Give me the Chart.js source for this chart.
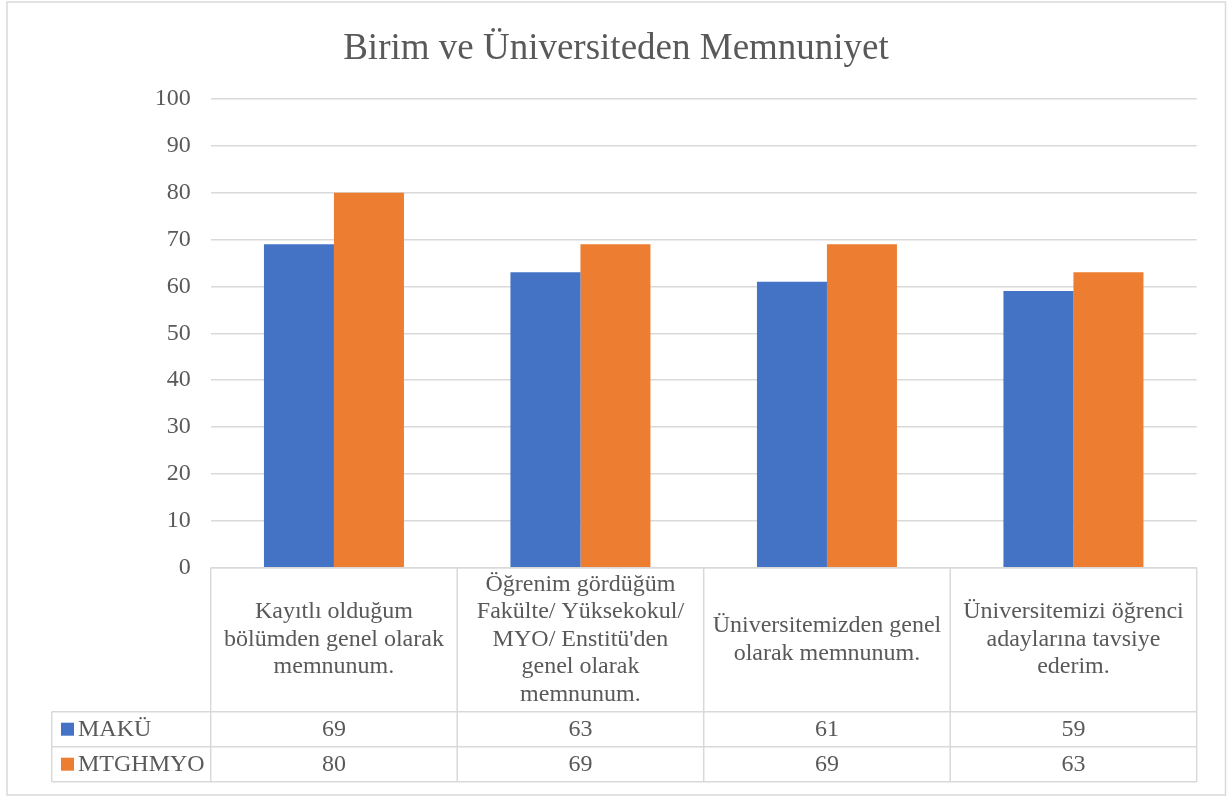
<!DOCTYPE html>
<html>
<head>
<meta charset="utf-8">
<script src="https://cdn.jsdelivr.net/npm/chart.js@4.4.1/dist/chart.umd.min.js"></script>
<style>
  body { margin: 0; background: #fff; }
  canvas { display: block; }
</style>
</head>
<body>
<canvas id="memnuniyetChart" width="1227" height="796"></canvas>
<script>
const chartTitle = 'Birim ve Üniversiteden Memnuniyet';

// category labels, split into lines as in the data table
const categories = [
    ['Kayıtlı olduğum', 'bölümden genel olarak', 'memnunum.'],
    ['Öğrenim gördüğüm', 'Fakülte/ Yüksekokul/', "MYO/ Enstitü'den", 'genel olarak', 'memnunum.'],
    ['Üniversitemizden genel', 'olarak memnunum.'],
    ['Üniversitemizi öğrenci', 'adaylarına tavsiye', 'ederim.']
];

const seriesNames = ['MAKÜ', 'MTGHMYO'];
const makuValues = [69, 63, 61, 59];
const mtghmyoValues = [80, 69, 69, 63];

const yMin = 0;
const yMax = 100;
const yStep = 10;

const BLUE = '#4472C4';
const ORANGE = '#ED7D31';
const LINE = '#d9d9d9';
const TEXT = '#595959';
const FONT = '"Liberation Serif", "Times New Roman", serif';

// data table under the plot, drawn from the x scale
const dataTablePlugin = {
    id: 'dataTable',
    beforeDraw(chart) {
        const ctx = chart.ctx;
        ctx.save();
        ctx.fillStyle = '#fff';
        ctx.fillRect(0, 0, chart.width, chart.height);
        ctx.strokeStyle = LINE;
        ctx.lineWidth = 1.5;
        ctx.strokeRect(7, 2, 1218.5, 793);
        ctx.restore();
    },
    afterDraw(chart) {
        const ctx = chart.ctx;
        const area = chart.chartArea;
        const xScale = chart.scales.x;
        const n = categories.length;
        const cellW = (area.right - area.left) / n;

        const y0 = area.bottom;
        const y1 = y0 + 144;
        const y2 = y1 + 35;
        const y3 = y2 + 35;
        const legendLeft = 51.7;

        ctx.save();
        ctx.strokeStyle = LINE;
        ctx.lineWidth = 1.5;
        ctx.beginPath();
        for (let i = 0; i <= n; i++) {
            const x = area.left + i * cellW;
            ctx.moveTo(x, y0);
            ctx.lineTo(x, y3);
        }
        ctx.moveTo(area.left, y0);
        ctx.lineTo(area.right, y0);
        [y1, y2, y3].forEach(y => {
            ctx.moveTo(legendLeft, y);
            ctx.lineTo(area.right, y);
        });
        ctx.moveTo(legendLeft, y1);
        ctx.lineTo(legendLeft, y3);
        ctx.stroke();

        ctx.fillStyle = TEXT;
        ctx.font = '24px ' + FONT;
        ctx.textAlign = 'center';
        ctx.textBaseline = 'middle';

        const lineH = 27.5;
        const labelMid = (y0 + y1) / 2;
        categories.forEach((lines, i) => {
            const cx = xScale.getPixelForValue(i);
            lines.forEach((line, j) => {
                ctx.fillText(line, cx, labelMid + (j - (lines.length - 1) / 2) * lineH);
            });
        });

        const rows = [
            { y: (y1 + y2) / 2, values: makuValues, color: BLUE, name: seriesNames[0] },
            { y: (y2 + y3) / 2, values: mtghmyoValues, color: ORANGE, name: seriesNames[1] }
        ];
        rows.forEach(r => {
            ctx.textAlign = 'center';
            r.values.forEach((v, i) => {
                ctx.fillText(String(v), xScale.getPixelForValue(i), r.y + 1);
            });
            ctx.fillStyle = r.color;
            ctx.fillRect(61, r.y - 6.5, 13, 13);
            ctx.fillStyle = TEXT;
            ctx.textAlign = 'left';
            ctx.fillText(r.name, 78, r.y + 1);
        });
        ctx.restore();
    }
};

const ctx = document.getElementById('memnuniyetChart').getContext('2d');
new Chart(ctx, {
    type: 'bar',
    data: {
        labels: categories,
        datasets: [
            {
                label: seriesNames[0],
                data: makuValues,
                backgroundColor: BLUE,
                categoryPercentage: 0.568,
                barPercentage: 1.0
            },
            {
                label: seriesNames[1],
                data: mtghmyoValues,
                backgroundColor: ORANGE,
                categoryPercentage: 0.568,
                barPercentage: 1.0
            }
        ]
    },
    options: {
        responsive: false,
        animation: false,
        layout: {
            // left padding only shifts the title centre; axis width is set below
            padding: { top: 0, left: 35.3, right: 30.3, bottom: 228.3 }
        },
        scales: {
            x: {
                display: false
            },
            y: {
                min: yMin,
                max: yMax,
                afterFit(scale) { scale.width = 175.4; },
                border: { display: false },
                grid: { color: LINE, lineWidth: 1.5, drawTicks: false },
                ticks: {
                    stepSize: yStep,
                    padding: 20,
                    color: TEXT,
                    font: { family: FONT, size: 24 }
                }
            }
        },
        plugins: {
            legend: { display: false },
            tooltip: { enabled: false },
            title: {
                display: true,
                text: chartTitle,
                color: TEXT,
                font: { family: FONT, size: 37, weight: 'normal', lineHeight: 1.2 },
                padding: { top: 27, bottom: 27.5 }
            }
        }
    },
    plugins: [dataTablePlugin]
});
</script>
</body>
</html>
